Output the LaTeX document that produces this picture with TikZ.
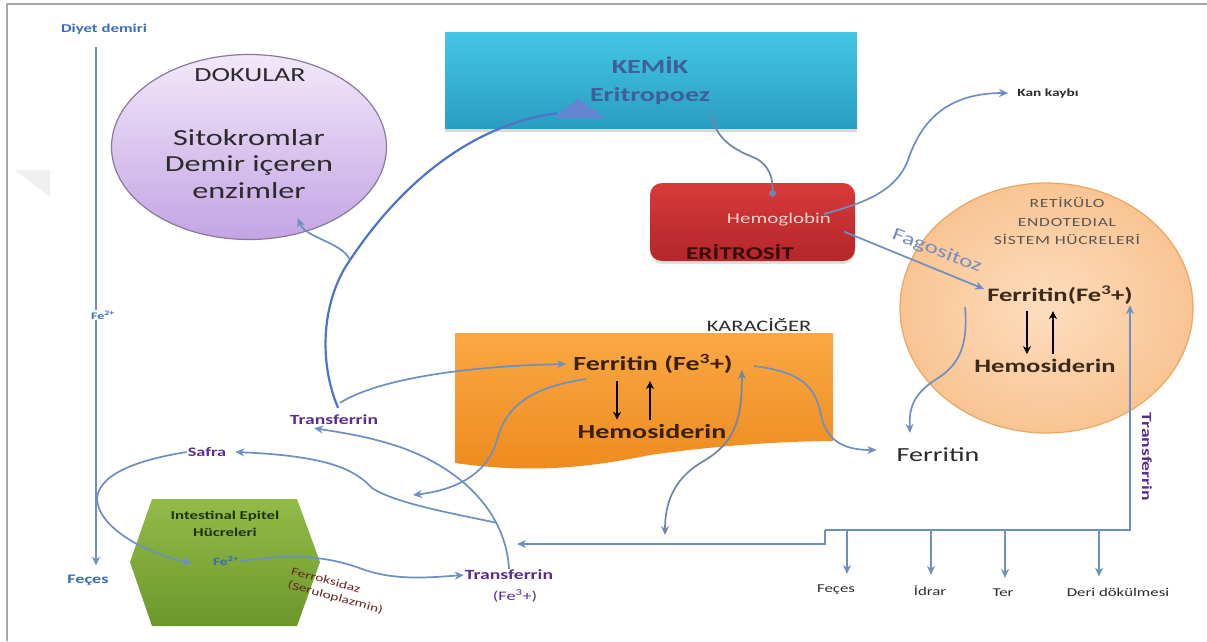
\documentclass[tikz,border=0pt]{standalone}
\usepackage{fontspec}
\setmainfont{Carlito}[FakeStretch=1.4]
\usetikzlibrary{arrows.meta,shapes.geometric,calc,shadows}
\newcommand{\fsz}[2]{\fontsize{#1}{#2}\selectfont}
\definecolor{lineblue}{HTML}{6E8FC2}
\definecolor{linegrey}{HTML}{6F86A8}
\definecolor{kemline}{HTML}{4F74C4}
\definecolor{tri}{HTML}{6F7FD4}
\definecolor{framegray}{HTML}{A8A8A8}
\definecolor{darktxt}{HTML}{2B2B2B}
\definecolor{lbluetxt}{HTML}{3A6DB5}
\definecolor{purp}{HTML}{5A2C8C}
\definecolor{doktop}{HTML}{F2E8F9}
\definecolor{dokbot}{HTML}{C3A4E4}
\definecolor{dokedge}{HTML}{8A7A9A}
\definecolor{kemtop}{HTML}{44C6E4}
\definecolor{kembot}{HTML}{2A9DC2}
\definecolor{kemtxt}{HTML}{3E5F98}
\definecolor{erytop}{HTML}{D83A3A}
\definecolor{erybot}{HTML}{B3262A}
\definecolor{erytxt}{HTML}{3B0C0C}
\definecolor{hgtxt}{HTML}{F4D0D0}
\definecolor{resin}{HTML}{FDDDBE}
\definecolor{resout}{HTML}{F9C493}
\definecolor{resedge}{HTML}{E9A864}
\definecolor{restxt}{HTML}{555555}
\definecolor{brtxt}{HTML}{3A2A1A}
\definecolor{kartop}{HTML}{F9A845}
\definecolor{karbot}{HTML}{EE8A1C}
\definecolor{kartxt}{HTML}{3A2005}
\definecolor{hextop}{HTML}{92BB48}
\definecolor{hexbot}{HTML}{6C982C}
\definecolor{hextxt}{HTML}{1F3310}
\definecolor{ferrtxt}{HTML}{6B2222}
\definecolor{fagtxt}{HTML}{7B8BBB}
\begin{document}
\begin{tikzpicture}[x=1pt,y=-1pt,
  every node/.style={inner sep=1pt},
  plain/.style={draw=lineblue,line width=1.7pt},
  conn/.style={draw=lineblue,line width=1.7pt,-{Stealth[length=9pt,width=8pt]}},
  dconn/.style={draw=linegrey,line width=1.7pt,{Stealth[length=9pt,width=8pt]}-{Stealth[length=9pt,width=8pt]}},
  kconn/.style={draw=kemline,line width=2.2pt},
  dotconn/.style={draw=linegrey,line width=1.7pt,-{Circle[length=7pt]}},
  bigar/.style={draw=black,line width=2pt,-{Stealth[length=8pt,width=8pt]}}]
\useasboundingbox (0,0) rectangle (1207,641);
\fill[white] (0,0) rectangle (1207,641);
\draw[framegray,line width=1.6pt] (7,641) -- (7,4) -- (1207,4);
\fill[gray!12] (15,170) -- (50,170) -- (50,197) -- cycle;

% DOKULAR
\node[ellipse,minimum width=275pt,minimum height=185pt,draw=dokedge,line width=1.2pt,top color=doktop,bottom color=dokbot] (doku) at (249,147) {};
\node[font=\fsz{20}{24},text=darktxt] (dokt) at (250,75) {DOKULAR};
\node[font=\fsz{23}{26.5},text=darktxt,align=center] (sito) at (249,164) {Sitokromlar\\Demir içeren\\enzimler};

% KEMIK
\node[rectangle,minimum width=412pt,minimum height=96pt,top color=kemtop,bottom color=kembot,drop shadow={shadow xshift=0pt,shadow yshift=-4pt,opacity=0.3,fill=gray}] (kemik) at (651,80) {};
\node[font=\bfseries\fsz{20}{28},text=kemtxt,align=center] (kemt) at (650,81) {KEMİK\\Eritropoez};

% ERITROSIT
\node[rectangle,rounded corners=12pt,minimum width=205pt,minimum height=78pt,top color=erytop,bottom color=erybot,drop shadow={shadow xshift=0pt,shadow yshift=-3pt,opacity=0.25,fill=gray}] (ery) at (752.5,222) {};
\node[font=\fsz{15}{18},text=hgtxt] (hg) at (779,220) {Hemoglobin};
\node[font=\bfseries\fsz{18}{20},text=erytxt] (eryt) at (740,252) {ERİTROSİT};

\node[font=\bfseries\fsz{11}{13},text=darktxt] (kan) at (1048,93) {Kan kaybı};

% RES
\node[ellipse,minimum width=293pt,minimum height=250pt,draw=resedge,line width=1.2pt,inner color=resin,outer color=resout] (res) at (1046.5,308) {};
\node[font=\fsz{12.5}{18.5}\addfontfeature{LetterSpace=6},text=restxt,align=center] (rest) at (1067,221) {RETİKÜLO\\ENDOTEDIAL\\SİSTEM HÜCRELERİ};
\node[font=\bfseries\fsz{19}{22},text=brtxt] (rf) at (1060,295) {Ferritin(Fe\textsuperscript{3}+)};
\node[font=\bfseries\fsz{19}{22},text=brtxt] (rh) at (1045,366) {Hemosiderin};
\draw[bigar] ($(rf.south)+(-33,6)$) -- ($(rh.north)+(-18,-4)$);
\draw[bigar] ($(rh.north)+(8,-4)$) -- ($(rf.south)+(-7,6)$);

\node[font=\fsz{20}{24},text=darktxt] (fer) at (938,455) {Ferritin};

% KARACIGER
\shade[top color=kartop,bottom color=karbot] (455,333) -- (833,333) -- (833,441) .. controls (790,441) and (720,445) .. (650,455) .. controls (600,465) and (540,475) .. (455,463) -- cycle;
\node[font=\fsz{16}{19},text=darktxt] (kar) at (759,325) {KARACİĞER};
\node[font=\bfseries\fsz{20}{24},text=kartxt] (kf) at (653,364) {Ferritin (Fe\textsuperscript{3}+)};
\node[font=\bfseries\fsz{20}{24},text=kartxt] (kh) at (652,432) {Hemosiderin};
\draw[bigar] ($(kf.south)+(-36,6)$) -- ($(kh.north)+(-35,-4)$);
\draw[bigar] ($(kh.north)+(-2,-4)$) -- ($(kf.south)+(-3,6)$);

% left side
\node[font=\bfseries\fsz{12}{14},text=lbluetxt] (diyet) at (104,29) {Diyet demiri};
\node[font=\bfseries\fsz{10}{12},text=lbluetxt] (fe2l) at (103,315) {Fe\textsuperscript{2+}};
\node[font=\bfseries\fsz{13}{15},text=lbluetxt] (fecl) at (88,580) {Feçes};
\node[font=\bfseries\fsz{13}{15},text=purp] (safra) at (207,452) {Safra};

% hexagon
\shade[top color=hextop,bottom color=hexbot] (130,562) -- (152,499) -- (297,499) -- (320,562) -- (297,626) -- (152,626) -- cycle;
\node[font=\bfseries\fsz{12}{17},text=hextxt,align=center] (hext) at (225,524) {Intestinal Epitel\\Hücreleri};
\node[font=\bfseries\fsz{11}{13},text=lbluetxt] (fe2h) at (226,561) {Fe\textsuperscript{2+}};
\node[font=\fsz{11}{14},text=ferrtxt,rotate=-15,align=left] (ferro) at (337,591) {Ferroksidaz\\(Seruloplazmin)};

\node[font=\bfseries\fsz{14}{16},text=purp] (tfb) at (509,575) {Transferrin};
\node[font=\fsz{13}{15},text=purp] (tfbfe) at (515,596) {(Fe\textsuperscript{3}+)};
\node[font=\bfseries\fsz{14}{16},text=purp] (tm) at (334,420) {Transferrin};
\node[font=\bfseries\fsz{14}{16},text=purp,rotate=-90] (tv) at (1147,457) {Transferrin};
\node[font=\fsz{18}{20},text=fagtxt,rotate=-21] (fag) at (937,251) {Fagositoz};

% bottom labels
\node[font=\fsz{12}{14},text=darktxt] (b1) at (836,590) {Feçes};
\node[font=\fsz{12}{14},text=darktxt] (b2) at (930,591) {İdrar};
\node[font=\fsz{12}{14},text=darktxt] (b3) at (1003,593) {Ter};
\node[font=\fsz{12}{14},text=darktxt] (b4) at (1118,592) {Deri dökülmesi};

% connectors
\draw[plain] ($(diyet.south)+(-8,12)$) -- ($(fe2l.north)+(-7,0)$);
\draw[conn] ($(fe2l.south)+(-7,0)$) -- ($(fecl.north)+(8,-8)$);
\draw[conn] (safra.west) .. controls (150,458) and (100,470) .. (97,498) .. controls (97,525) and (140,552) .. ($(fe2h.west)+(-20,2)$);
\draw[conn] (fe2h.east) .. controls (300,553) and (330,557) .. (365,570) .. controls (395,580) and (425,578) .. (tfb.west);
\draw[conn] (tfb.north) .. controls (506,515) and (465,470) .. (400,447) .. controls (370,437) and (345,433) .. ($(tm.south)+(-20,2)$);
\draw[conn] ($(tfb.north)+(-12,-46)$) .. controls (450,513) and (395,503) .. (372,488) .. controls (355,470) and (330,456) .. ($(safra.east)+(8,0)$);
\coordinate (kfl) at (413,495);
\draw[conn] ($(kf.south west)+(14,4)$) .. controls (525,388) and (505,410) .. (497,440) .. controls (487,475) and (455,490) .. (kfl);
\draw[conn] ($(tm.north)+(6,-11)$) .. controls (380,378) and (470,366) .. ($(kf.west)+(-6,0)$);
\coordinate (jn) at (350,260);
\draw[kconn] ($(tm.north)+(4,-6)$) .. controls (318,360) and (322,300) .. (jn) .. controls (400,185) and (470,125) .. ($(kemik.south west)+(112,-15)$);
\fill[tri,opacity=0.85] ($(kemik.south west)+(110,-10)$) -- ++(50,0) -- ++(-27,-20) -- cycle;
\draw[conn] (jn) .. controls (342,242) and (305,238) .. ($(doku.south)+(49,-22)$);
\draw[dotconn] ($(kemt.south east)+(0,8)$) .. controls (716,140) and (735,150) .. (755,158) .. controls (770,165) and (773,180) .. ($(ery.north)+(20,14)$);
\draw[conn] ($(hg.east)+(-8,-6)$) .. controls (855,205) and (895,195) .. (908,160) .. controls (922,118) and (950,93) .. ($(kan.west)+(-8,0)$);
\draw[conn] ($(hg.south east)+(12,4)$) -- ($(rf.west)+(-2,-6)$);
\draw[conn] ($(rf.south west)+(-21,2)$) .. controls (968,345) and (960,365) .. (935,380) .. controls (912,395) and (909,410) .. ($(fer.north)+(-28,-14)$);
\draw[conn] ($(kf.east)+(20,2)$) .. controls (800,372) and (815,385) .. (821,415) .. controls (827,445) and (850,450) .. ($(fer.west)+(-19,-5)$);
\coordinate (bl) at (665,535);
\draw[dconn] ($(kf.east)+(8,6)$) .. controls (742,420) and (735,443) .. (702,462) .. controls (672,480) and (665,505) .. (bl);

\coordinate (stp) at (825,530);
\coordinate (corner) at (1130,530);
\coordinate (lowend) at (517,544);
\draw[conn] (stp) -- (corner) -- (corner |- rf.south);
\draw[conn] (stp) -- (stp |- lowend) -- (lowend);
\coordinate (d1) at (847,530);
\coordinate (d2) at (931,530);
\coordinate (d3) at (1005,530);
\coordinate (d4) at (1099,530);
\draw[conn,shorten >=10pt] (d1) -- (d1 |- b1.north);
\draw[conn,shorten >=10pt] (d2) -- (d2 |- b2.north);
\draw[conn,shorten >=10pt] (d3) -- (d3 |- b3.north);
\draw[conn,shorten >=10pt] (d4) -- (d4 |- b4.north);
\end{tikzpicture}
\end{document}
